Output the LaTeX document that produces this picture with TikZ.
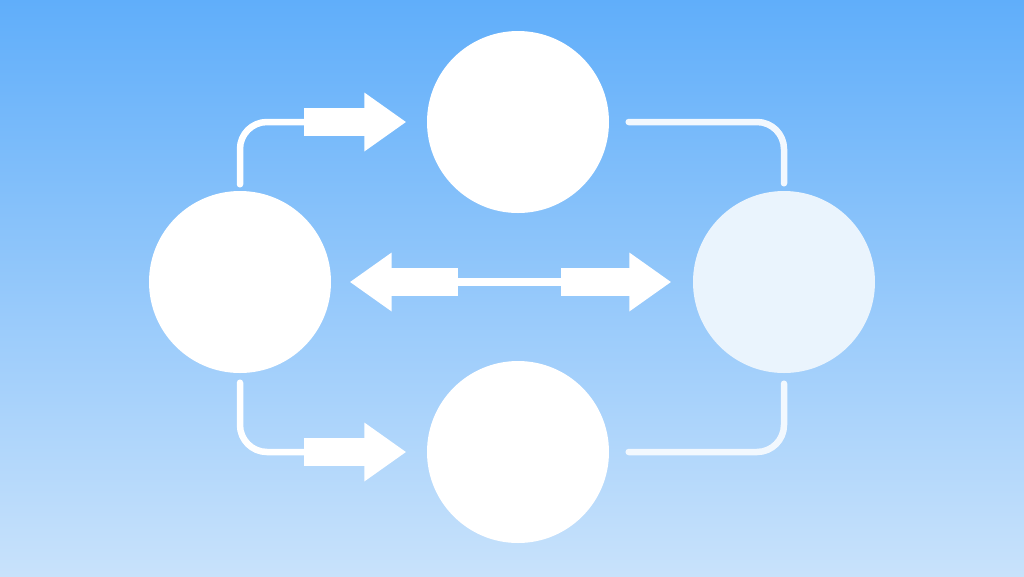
\documentclass[tikz,border=0pt]{standalone}
\usetikzlibrary{arrows.meta}
\definecolor{bgtop}{RGB}{96,174,250}
\definecolor{bgbot}{RGB}{200,226,251}
\definecolor{paleball}{RGB}{234,244,253}
\definecolor{paleline}{RGB}{242,248,254}
\begin{document}
\begin{tikzpicture}[
  ball/.style={circle, fill=white, inner sep=0pt, minimum size=1.82cm},
  link/.style={draw=white, line width=0.065cm, line cap=round, rounded corners=0.27cm},
  fat/.style={draw=white, fill=white, line width=0.28cm, -{Triangle[width=0.56cm,length=0.42cm]}},
  fatl/.style={draw=white, fill=white, line width=0.28cm, {Triangle[width=0.56cm,length=0.42cm]}-}]
\shade [top color=bgtop, bottom color=bgbot] (0,0) rectangle (10.24,5.76);
\node [ball] (T) at (5.18,4.54) {};
\node [ball] (L) at (2.40,2.94) {};
\node [ball, fill=paleball] (R) at (7.84,2.94) {};
\node [ball] (B) at (5.18,1.24) {};
% left side
\draw [link] ([yshift=0.06cm]L.north) |- ([xshift=-1.22cm]T.west);
\draw [fat] ([xshift=-1.22cm]T.west) -- ([xshift=-0.2cm]T.west);
\draw [link] ([yshift=-0.09cm]L.south) |- ([xshift=-1.22cm]B.west);
\draw [fat] ([xshift=-1.22cm]B.west) -- ([xshift=-0.2cm]B.west);
% middle
\draw [fatl] ([xshift=0.18cm]L.east) -- ([xshift=1.26cm]L.east);
\draw [link, line width=0.08cm, line cap=butt] ([xshift=1.26cm]L.east) -- ([xshift=-1.31cm]R.west);
\draw [fat] ([xshift=-1.31cm]R.west) -- ([xshift=-0.21cm]R.west);
% right side
\draw [link, draw=paleline] ([xshift=0.19cm]T.east) -| ([yshift=0.07cm]R.north);
\draw [link, draw=paleline] ([yshift=-0.1cm]R.south) |- ([xshift=0.19cm]B.east);
\end{tikzpicture}
\end{document}
